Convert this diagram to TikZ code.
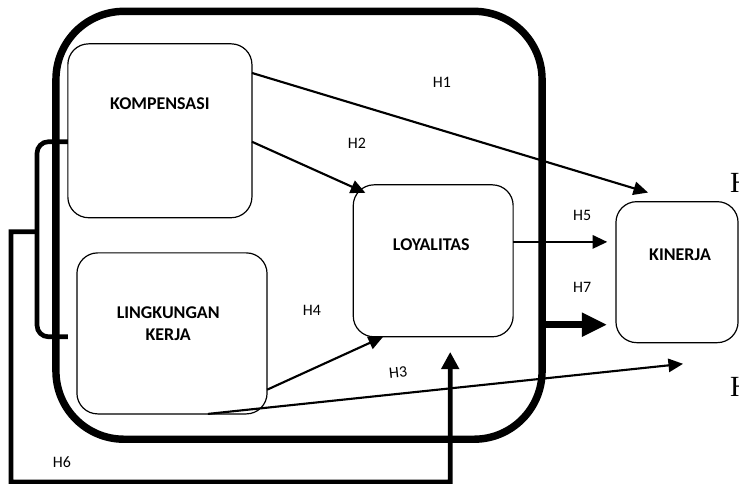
\documentclass[tikz,border=0pt]{standalone}
\usepackage{fontspec}
\setmainfont{Carlito}
\newfontfamily\serifH{Liberation Serif}
\usetikzlibrary{arrows.meta,positioning,calc}

\begin{document}
\begin{tikzpicture}[font=\fontsize{12}{14}\selectfont,
  box/.style={draw,line width=0.9pt,rounded corners=0.55cm,inner sep=0pt,outer sep=0pt},
  boxtext/.style={font=\fontsize{13.5}{17}\selectfont\bfseries,align=center},
  arr/.style={line width=1.6pt,-{Triangle[length=11pt,width=10pt]}},
  hyp/.style={inner sep=0pt}]
\useasboundingbox (0,0) rectangle (19.55,12.80);
\node[draw,line width=5.6pt,rounded corners=1.8cm,inner sep=0pt,outer sep=0pt,minimum width=12.86cm,minimum height=11.32cm] (frame) at (7.91,6.84) {};
\node[box,minimum width=4.87cm,minimum height=4.60cm] (komp) at (4.23,9.34) {};
\node[box,minimum width=5.03cm,minimum height=4.26cm] (ling) at (4.55,3.98) {};
\node[box,minimum width=4.23cm,minimum height=4.02cm] (loy) at (11.46,5.90) {};
\node[box,minimum width=3.23cm,minimum height=3.73cm] (kin) at (17.91,5.60) {};
\node[boxtext] (kompt) at ($(komp)+(0,0.71)$) {KOMPENSASI};
\node[boxtext] (lingt) at ($(ling)+(-0.1,0.26)$) {LINGKUNGAN\\KERJA};
\node[boxtext] (loyt) at ($(loy)+(-0.05,0.42)$) {LOYALITAS};
\node[boxtext] (kint) at ($(kin)+(0.08,0.46)$) {KINERJA};
\draw[arr] ($(komp.east)+(0,1.53)$) -- ($(kin.north west)+(0.85,0.24)$);
\draw[arr] ($(komp.east)+(0,-0.29)$) -- ($(loy.north west)+(0.32,-0.21)$);
\draw[arr] ($(loy.east)+(0,0.5)$) -- +(2.49,0);
\draw[arr] ($(ling.east)+(0,-1.49)$) -- ($(loy.south west)+(0.79,0)$);
\draw[arr] ($(ling.south)+(0.95,0)$) -- ($(kin.south)+(0.16,-0.56)$);
\draw[line width=5pt,-{Triangle[length=19pt,width=17pt]}] ($(frame.east)+(0,-2.63)$) -- +(1.72,0);
\draw[line width=3.5pt,rounded corners=0.3cm] ($(komp.west)+(0,-0.29)$) -- (0.98,9.05) -- (0.98,3.89) -- ($(ling.west)+(-0.24,-0.09)$);
\coordinate (brk) at (0.98,6.67);
\draw[line width=3.5pt,-{Triangle[length=13pt,width=13pt]}] (brk) -- (0.29,6.67) -- (0.29,0.05) -- (11.91,0.05) -- ($(loy.south)+(0.45,-0.40)$);
\node[hyp] (h1) at (11.69,10.61) {H1};
\node[hyp] (h2) at (9.44,9.02) {H2};
\node[hyp] (h3) at (10.53,2.94) [rotate=6] {H3};
\node[hyp] (h4) at (8.25,4.60) {H4};
\node[hyp] (h5) at (15.40,7.09) {H5};
\node[hyp] (h6) at (1.64,0.58) {H6};
\node[hyp] (h7) at (15.40,5.21) {H7};
\node[anchor=base west,inner sep=0pt,font=\serifH\fontsize{22}{26}\selectfont] (cuta) at (19.31,7.70) {H};
\node[anchor=base west,inner sep=0pt,font=\serifH\fontsize{22}{26}\selectfont] (cutb) at (19.31,2.30) {H};
\end{tikzpicture}
\end{document}
